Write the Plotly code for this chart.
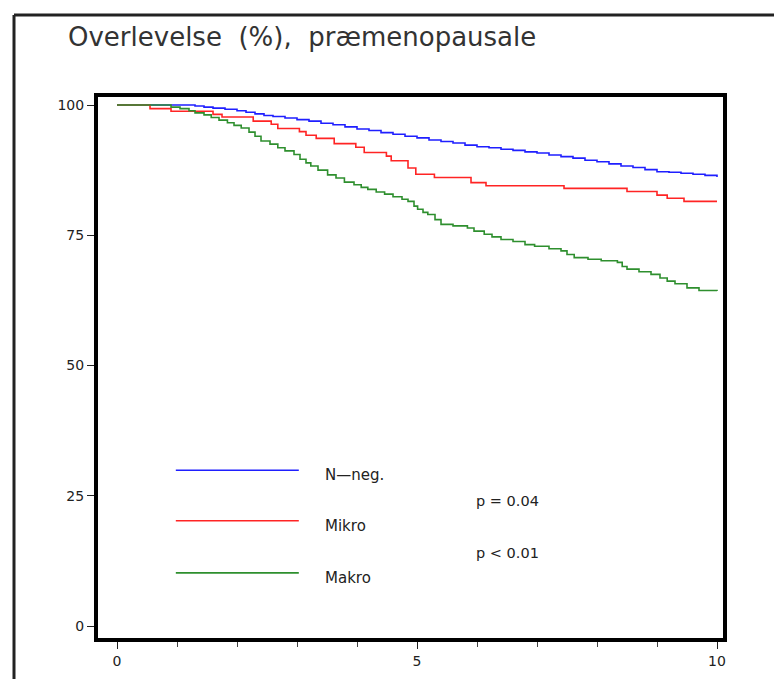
import plotly.graph_objects as go

# Kaplan-Meier curves (years, survival %)
neg_years = [0, 1.3, 1.45, 1.6, 1.8, 2.0, 2.15, 2.3, 2.45, 2.6, 2.8, 3.0, 3.2, 3.4, 3.6,
             3.8, 4.0, 4.2, 4.4, 4.6, 4.8, 5.0, 5.2, 5.4, 5.6, 5.8, 6.0, 6.2, 6.4, 6.6,
             6.8, 7.0, 7.2, 7.4, 7.6, 7.8, 8.0, 8.2, 8.4, 8.6, 8.8, 9.0, 9.2, 9.4, 9.6,
             9.8, 10.0]
neg_surv = [100, 99.8, 99.6, 99.4, 99.2, 98.9, 98.6, 98.3, 98.0, 97.8, 97.5, 97.2, 96.9,
            96.5, 96.2, 95.8, 95.4, 95.1, 94.7, 94.4, 94.0, 93.7, 93.3, 93.0, 92.7, 92.3,
            92.0, 91.8, 91.5, 91.3, 91.0, 90.8, 90.4, 90.1, 89.8, 89.4, 89.1, 88.7, 88.3,
            88.0, 87.6, 87.2, 87.1, 86.9, 86.7, 86.5, 86.2]

mikro_years = [0, 0.55, 0.9, 1.6, 1.75, 2.27, 2.57, 2.68, 3.04, 3.15, 3.32, 3.62, 3.98,
               4.12, 4.49, 4.57, 4.85, 4.98, 5.29, 5.9, 6.15, 7.45, 8.5, 9.0, 9.17, 9.45,
               10.0]
mikro_surv = [100, 99.3, 98.8, 98.2, 97.7, 96.9, 96.3, 95.5, 94.9, 94.2, 93.6, 92.6, 91.9,
              90.9, 90.2, 89.3, 87.9, 86.7, 86.1, 85.1, 84.5, 84.0, 83.4, 82.7, 82.1, 81.5,
              81.5]

makro_years = [0, 0.9, 1.05, 1.2, 1.3, 1.45, 1.57, 1.7, 1.84, 1.95, 2.07, 2.2, 2.3, 2.4,
               2.55, 2.68, 2.8, 2.95, 3.05, 3.15, 3.23, 3.35, 3.51, 3.65, 3.79, 3.95, 4.07,
               4.18, 4.32, 4.46, 4.6, 4.75, 4.85, 4.95, 5.01, 5.1, 5.18, 5.3, 5.4, 5.6, 5.84,
               5.95, 6.12, 6.25, 6.4, 6.6, 6.8, 6.96, 7.2, 7.4, 7.5, 7.62, 7.85, 8.07, 8.34,
               8.42, 8.5, 8.7, 8.9, 9.05, 9.17, 9.3, 9.5, 9.7, 10.0]
makro_surv = [100, 99.6, 99.3, 98.9, 98.5, 98.1, 97.6, 97.1, 96.6, 96.1, 95.6, 94.8, 94.0,
              93.1, 92.5, 91.8, 91.2, 90.5, 89.6, 88.9, 88.3, 87.5, 86.6, 86.0, 85.2, 84.7,
              84.2, 83.8, 83.3, 82.9, 82.4, 81.9, 81.5, 80.6, 80.0, 79.4, 79.0, 78.0, 77.1,
              76.8, 76.4, 75.8, 75.2, 74.7, 74.2, 73.8, 73.2, 72.9, 72.4, 72.0, 71.3, 70.7,
              70.4, 70.1, 69.8, 69.0, 68.5, 68.0, 67.5, 66.8, 66.2, 65.7, 64.9, 64.4, 64.3]

group_names = ["N\u2014neg.", "Mikro", "Makro"]
group_colors = ["#1f1fff", "#ff2424", "#2e8f2e"]
p_labels = ["p = 0.04", "p < 0.01"]

FONT = "DejaVu Sans, Verdana, sans-serif"

fig = go.Figure()
curves = [(neg_years, neg_surv), (mikro_years, mikro_surv), (makro_years, makro_surv)]
for (xs, ys), name, color in zip(curves, group_names, group_colors):
    fig.add_trace(go.Scatter(x=xs, y=ys, mode="lines", name=name,
                             line=dict(color=color, width=1.6, shape="hv"),
                             showlegend=False))

# hand-drawn legend inside the plot
legend_y = [29.9, 20.2, 10.2]
for ly, name, color in zip(legend_y, group_names, group_colors):
    fig.add_shape(type="line", xref="x", yref="y", x0=0.98, x1=3.03, y0=ly, y1=ly,
                  line=dict(color=color, width=1.6))
    fig.add_annotation(x=3.43, y=ly - 1.0, xref="x", yref="y", text=name,
                       showarrow=False, xanchor="left", yanchor="middle",
                       font=dict(family=FONT, size=15, color="#222"))
for py, txt in zip([24.0, 14.0], p_labels):
    fig.add_annotation(x=5.95, y=py, xref="x", yref="y", text=txt,
                       showarrow=False, xanchor="left", yanchor="middle",
                       font=dict(family=FONT, size=14.5, color="#222"))

# outer frame (top and left edges only)
fig.add_shape(type="line", xref="paper", yref="paper", x0=-0.1344, x1=1.2,
              y0=1.1516, y1=1.1516, line=dict(color="#222", width=3))
fig.add_shape(type="line", xref="paper", yref="paper", x0=-0.1344, x1=-0.1344,
              y0=1.1516, y1=-0.2, line=dict(color="#222", width=3))

fig.update_layout(
    width=782, height=679,
    margin=dict(l=90, r=67, t=89, b=49),
    plot_bgcolor="white", paper_bgcolor="white",
    font=dict(family=FONT, size=14, color="#222"),
    title=dict(text="Overlevelse  (%),  præmenopausale", xref="container", yref="container",
               x=60 / 782, y=1 - 29 / 679, xanchor="left", yanchor="middle",
               font=dict(family=FONT, size=26, color="#333")),
)
fig.update_xaxes(range=[-0.317, 10.1], tickvals=[0, 5, 10], ticks="outside", ticklen=7,
                 tickwidth=1, tickcolor="#222", showgrid=False, zeroline=False,
                 showline=True, linewidth=4, linecolor="black", mirror=True,
                 minor=dict(dtick=1, tick0=0, ticks="outside", ticklen=5, tickcolor="#444"))
fig.update_yaxes(range=[-2.3, 101.54], tickvals=[0, 25, 50, 75, 100], ticks="outside",
                 ticklen=7, tickwidth=1, tickcolor="#222", showgrid=False, zeroline=False,
                 showline=True, linewidth=4, linecolor="black", mirror=True)

fig.write_html("out.html")
